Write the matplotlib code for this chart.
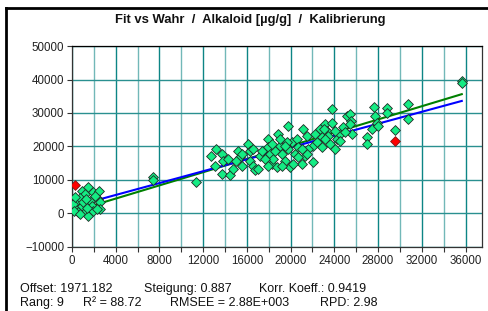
import matplotlib
matplotlib.use("Agg")
import matplotlib.pyplot as plt
import numpy as np
from matplotlib.lines import Line2D

plt.rcParams['font.family'] = ['Liberation Sans', 'DejaVu Sans']

# true value (x) vs fitted value (y)
wahr = [275, 890, 1500, 1190, 1950, 2500, 430, 730, 1650, 2410, 890, 1810, 2570,
        1190, 1950, 2570, 580, 1500, 120, 2260, 300, 1000, 1400, 200, 2100, 700, 1300,
        7420, 7420, 11390,
        12700, 13220, 13680, 13070, 13680, 14440, 13830, 14290, 14750, 15210, 15360,
        15510, 16120, 16270, 16270, 16580, 16730, 17190, 17890, 17950, 18110, 18260,
        18410, 18720, 18870, 19020, 19170, 19480, 19780, 19780, 19940, 20090, 20390,
        20550, 20700, 21000, 21160, 21310, 21460, 22070, 22070, 22370, 22680, 22840,
        23140, 23300, 23600, 23750, 23750, 24060, 24210, 24520, 24820, 25120, 25430,
        25520, 25580, 26960, 26960, 27420, 27660, 27720, 27880, 28030, 28790, 28790,
        29550, 30710, 30710, 35660, 35660,
        17650, 18560, 19630, 20700, 21620, 22230, 22840, 23450, 24520, 24970, 19170,
        17950, 17040, 20240, 21460, 15030, 15510, 16580, 17340, 19480, 21000, 23080,
        23140, 24060, 25430, 19020, 18320]
fit = [1850, 6790, 7800, 5800, 6300, 6800, 3800, 4520, 3800, 4320, 2320, 2320, 3330,
       360, 830, 1340, 360, -650, 2830, 1340, 4800, 3300, 1500, 600, 5200, -300, 4300,
       10860, 9880, 9290,
       17090, 19260, 17780, 14320, 11850, 11360, 15800, 16300, 13330, 18770, 16790,
       14320, 20740, 18770, 15800, 14320, 12840, 17280, 22220, 19750, 17780, 14810,
       16300, 13830, 23700, 20250, 17780, 15800, 26170, 19260, 13830, 21240, 17780,
       22220, 19750, 14810, 25190, 17280, 23210, 15310, 20250, 21240, 25190, 19750,
       26670, 24690, 20740, 27160, 31110, 19260, 22220, 23700, 25680, 29140, 29630,
       27660, 23700, 22720, 20740, 25190, 31900, 29140, 27160, 26170, 31610, 30120,
       24890, 32590, 28350, 39500, 39000,
       16300, 18770, 21240, 16790, 19260, 23700, 22720, 23210, 21730, 24200, 14320,
       14320, 13330, 14810, 17780, 15800, 17780, 19260, 18770, 20250, 19260, 25190,
       22220, 24690, 26670, 22220, 20740]

# flagged samples
ausr_wahr = [300, 29550]
ausr_fit = [8400, 21530]

offset = 1971.182
steigung = 0.887
ideal_offset = 500
ideal_steigung = 0.985

fig = plt.figure(figsize=(4.88, 3.11), dpi=100)
ax = fig.add_axes([0.1475, 0.206, 0.840, 0.646])

ax.set_xlim(0, 37500)
ax.set_ylim(-10000, 50000)

xs = np.array([min(wahr), max(wahr)])
ax.plot(xs, ideal_offset + ideal_steigung * xs, color='#008000', lw=1.5, zorder=3)
ax.plot(xs, offset + steigung * xs, color='#0000ff', lw=1.5, zorder=4)

ax.scatter(wahr, fit, marker='D', s=25, color='#14ec84', edgecolors='#1f2a24',
           linewidths=0.6, zorder=5)
ax.scatter(ausr_wahr, ausr_fit, marker='D', s=25, color='#ff0000', edgecolors='#7a1a1a',
           linewidths=0.6, zorder=6)

ax.set_xticks(np.arange(0, 37000, 4000))
ax.set_xticks(np.arange(2000, 37000, 4000), minor=True)
ax.set_yticks(np.arange(-10000, 50001, 10000))
ax.grid(True, which='major', axis='x', color='#0d8585', lw=1.0)
ax.grid(True, which='minor', axis='x', color='#72b8b8', lw=1.0)
ax.grid(True, which='major', axis='y', color='#2a9090', lw=1.0)
ax.set_axisbelow(True)

ax.tick_params(which='both', direction='out', length=3.5, width=0.8, color='#333333',
               labelsize=8.3, labelcolor='#222222', pad=2)
ax.tick_params(axis='x', which='minor', length=3.5)
for s in ax.spines.values():
    s.set_color('#333333')
    s.set_linewidth(0.9)
ax.spines['top'].set_color('black')

fig.text(0.512, 0.935, 'Fit vs Wahr  /  Alkaloid [µg/g]  /  Kalibrierung',
         ha='center', va='center', fontsize=9.4, fontweight='bold', color='#111111')

zeile1 = [(20, 'Offset: 1971.182'), (144, 'Steigung: 0.887'), (259, 'Korr. Koeff.: 0.9419')]
zeile2 = [(20, 'Rang: 9'), (83, 'R² = 88.72'), (170, 'RMSEE = 2.88E+003'), (320, 'RPD: 2.98')]
for px, t in zeile1:
    fig.text(px / 488, 1 - 289 / 311, t, ha='left', va='center', fontsize=9, color='#111111')
for px, t in zeile2:
    fig.text(px / 488, 1 - 303 / 311, t, ha='left', va='center', fontsize=9, color='#111111')

# window frame on left and top
fig.add_artist(Line2D([6 / 488, 6 / 488], [0, 1 - 7.5 / 311], color='black', lw=2,
                      transform=fig.transFigure))
fig.add_artist(Line2D([6 / 488, 1], [1 - 7.5 / 311, 1 - 7.5 / 311], color='black', lw=2,
                      transform=fig.transFigure))

fig.savefig('out.png', dpi=100)
